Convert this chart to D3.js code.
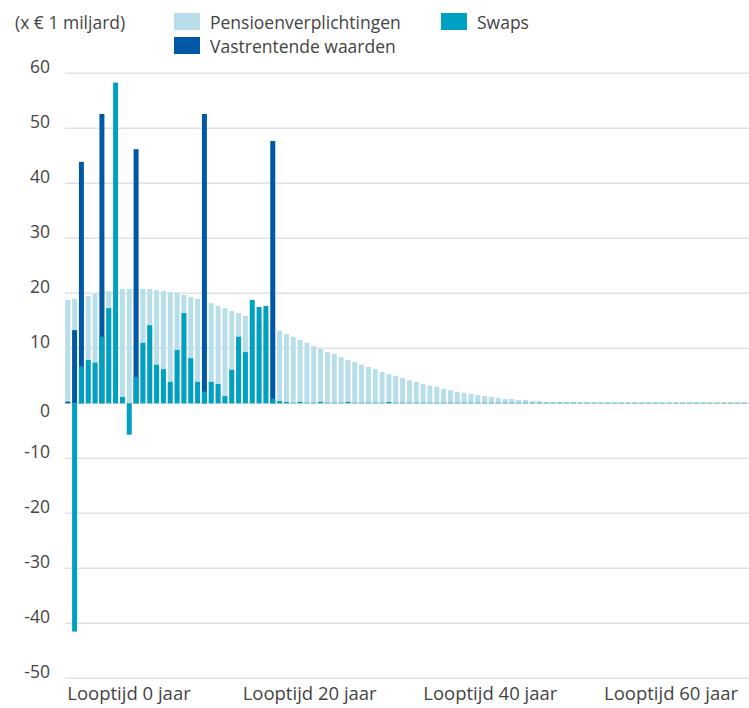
<!DOCTYPE html>
<html>
<head>
<meta charset="utf-8">
<script src="https://cdn.jsdelivr.net/npm/d3@7"></script>
<style>
  body { margin: 0; background: #fff; }
  svg text { font-family: "Open Sans", sans-serif; font-weight: 400; fill: #444; }
</style>
</head>
<body>
<svg></svg>
<script>
let width = 749;
let height = 708;

// looptijd in jaren (0 t/m 99)
let years = d3.range(0, 100);

// x € 1 miljard, per looptijd-jaar
let pensioen = [
  18.8, 19.0, 19.3, 19.5, 19.9, 20.2, 20.4, 20.6, 20.8, 20.8,
  20.8, 20.8, 20.8, 20.6, 20.4, 20.2, 20.1, 19.7, 19.3, 19.0,
  18.6, 18.2, 17.7, 17.3, 16.8, 16.4, 15.9, 15.4, 14.9, 14.4,
  13.8, 13.2, 12.6, 12.1, 11.5, 11.0, 10.4, 9.9, 9.3, 9.0,
  8.4, 7.9, 7.5, 7.0, 6.6, 6.2, 5.7, 5.3, 5.0, 4.6,
  4.2, 3.9, 3.5, 3.2, 3.0, 2.6, 2.4, 2.1, 1.9, 1.7,
  1.5, 1.3, 1.15, 1.0, 0.8, 0.8, 0.6, 0.6, 0.4, 0.4,
  0.25, 0.25, 0.25, 0.25, 0.25, 0.15, 0.15, 0.12, 0.12, 0.1,
  0.1, 0.1, 0.1, 0.1, 0.1, 0.1, 0.1, 0.1, 0.1, 0.1,
  0.08, 0.08, 0.08, 0.08, 0.08, 0.08, 0.08, 0.08, 0.08, 0.08
];

let vastrentend = [
  0.3, 13.3, 43.9, 0, 0, 52.6, 0, 0, 0, 0,
  46.2, 0, 0, 0, 0, 0, 0, 0, 0, 0,
  52.6, 0, 0, 0, 0, 0, 0, 0, 0, 0,
  47.7, 0, 0, 0, 0, 0, 0, 0, 0, 0,
  0, 0, 0, 0, 0, 0, 0, 0, 0, 0,
  0, 0, 0, 0, 0, 0, 0, 0, 0, 0,
  0, 0, 0, 0, 0, 0, 0, 0, 0, 0,
  0, 0, 0, 0, 0, 0, 0, 0, 0, 0,
  0, 0, 0, 0, 0, 0, 0, 0, 0, 0,
  0, 0, 0, 0, 0, 0, 0, 0, 0, 0
];

let swaps = [
  0, -41.5, 6.7, 7.9, 7.4, 12.1, 17.3, 58.3, 1.15, -5.7,
  4.8, 11.0, 14.2, 7.0, 6.2, 3.9, 9.7, 16.4, 8.2, 3.9,
  2.1, 3.9, 3.5, 1.3, 6.1, 12.1, 9.3, 18.8, 17.5, 17.7,
  0.8, 0.4, 0.25, 0.1, 0.25, 0.1, 0.1, 0.25, 0.1, 0.1,
  0.1, 0.25, 0.1, 0.1, 0.1, 0.1, 0.1, 0.25, 0.1, 0.1,
  0.1, 0.1, 0.1, 0.1, 0.1, 0.1, 0.1, 0.1, 0.1, 0.1,
  0.1, 0.1, 0.1, 0.1, 0.1, 0.1, 0.1, 0.1, 0.1, 0.1,
  0.1, 0.1, 0.1, 0.1, 0.1, 0.1, 0.1, 0.1, 0.1, 0.1,
  0.1, 0.1, 0.1, 0.1, 0.1, 0.1, 0.1, 0.1, 0.1, 0.1,
  0.1, 0.1, 0.1, 0.1, 0.1, 0.1, 0.1, 0.1, 0.1, 0.1
];

let yTicks = [60, 50, 40, 30, 20, 10, 0, -10, -20, -30, -40, -50];
let xLabels = ["Looptijd 0 jaar", "Looptijd 20 jaar", "Looptijd 40 jaar", "Looptijd 60 jaar"];

let legendItems = [
  { name: "Pensioenverplichtingen", color: "#b8dfe9" },
  { name: "Vastrentende waarden", color: "#0058a6" },
  { name: "Swaps", color: "#00a0c3" }
];

let svg = d3.select('svg').attr('width', width).attr('height', height);

let xScale = d3.scaleBand().domain(years).range([63, 749]).paddingInner(0.27).paddingOuter(0.33);
let yScale = d3.scaleLinear().domain([-50, 60]).range([678.3, 73.3]);

//gridlines
svg.append('g').selectAll('line').data(yTicks).join('line')
  .attr('x1', 65).attr('x2', 749)
  .attr('y1', d => yScale(d)).attr('y2', d => yScale(d))
  .attr('stroke', '#e1e1e1').attr('stroke-width', 1.6);

//y labels
svg.append('g').selectAll('text').data(yTicks).join('text')
  .attr('x', 50)
  .attr('y', d => yScale(d) + (d === 0 ? 14 : 0))
  .attr('text-anchor', 'end')
  .attr('font-size', 17.5)
  .text(d => d);

function drawBars(values, color) {
  svg.append('g').selectAll('rect').data(years).join('rect')
    .attr('x', d => xScale(d))
    .attr('width', xScale.bandwidth())
    .attr('y', d => yScale(Math.max(0, values[d])))
    .attr('height', d => Math.abs(yScale(values[d]) - yScale(0)))
    .attr('fill', color);
}
drawBars(pensioen, legendItems[0].color);
drawBars(vastrentend, legendItems[1].color);
drawBars(swaps, legendItems[2].color);

//x labels
let labelScale = d3.scalePoint().domain(xLabels).range([129, 671]);
svg.append('g').selectAll('text').data(xLabels).join('text')
  .attr('x', d => labelScale(d))
  .attr('y', 700)
  .attr('text-anchor', 'middle')
  .attr('font-size', 18.5)
  .text(d => d);

//legend
svg.append('text').attr('x', 15).attr('y', 29).attr('font-size', 17.5).text('(x € 1 miljard)');
let legendPos = [[174, 13], [174, 37], [441, 13]];
let legend = svg.append('g').selectAll('g').data(legendItems).join('g')
  .attr('transform', (d, i) => 'translate(' + legendPos[i][0] + ', ' + legendPos[i][1] + ')');
legend.append('rect').attr('width', 26).attr('height', 17).attr('fill', d => d.color);
legend.append('text').attr('x', 36).attr('y', 16).attr('font-size', 17.5).text(d => d.name);
</script>
</body>
</html>
